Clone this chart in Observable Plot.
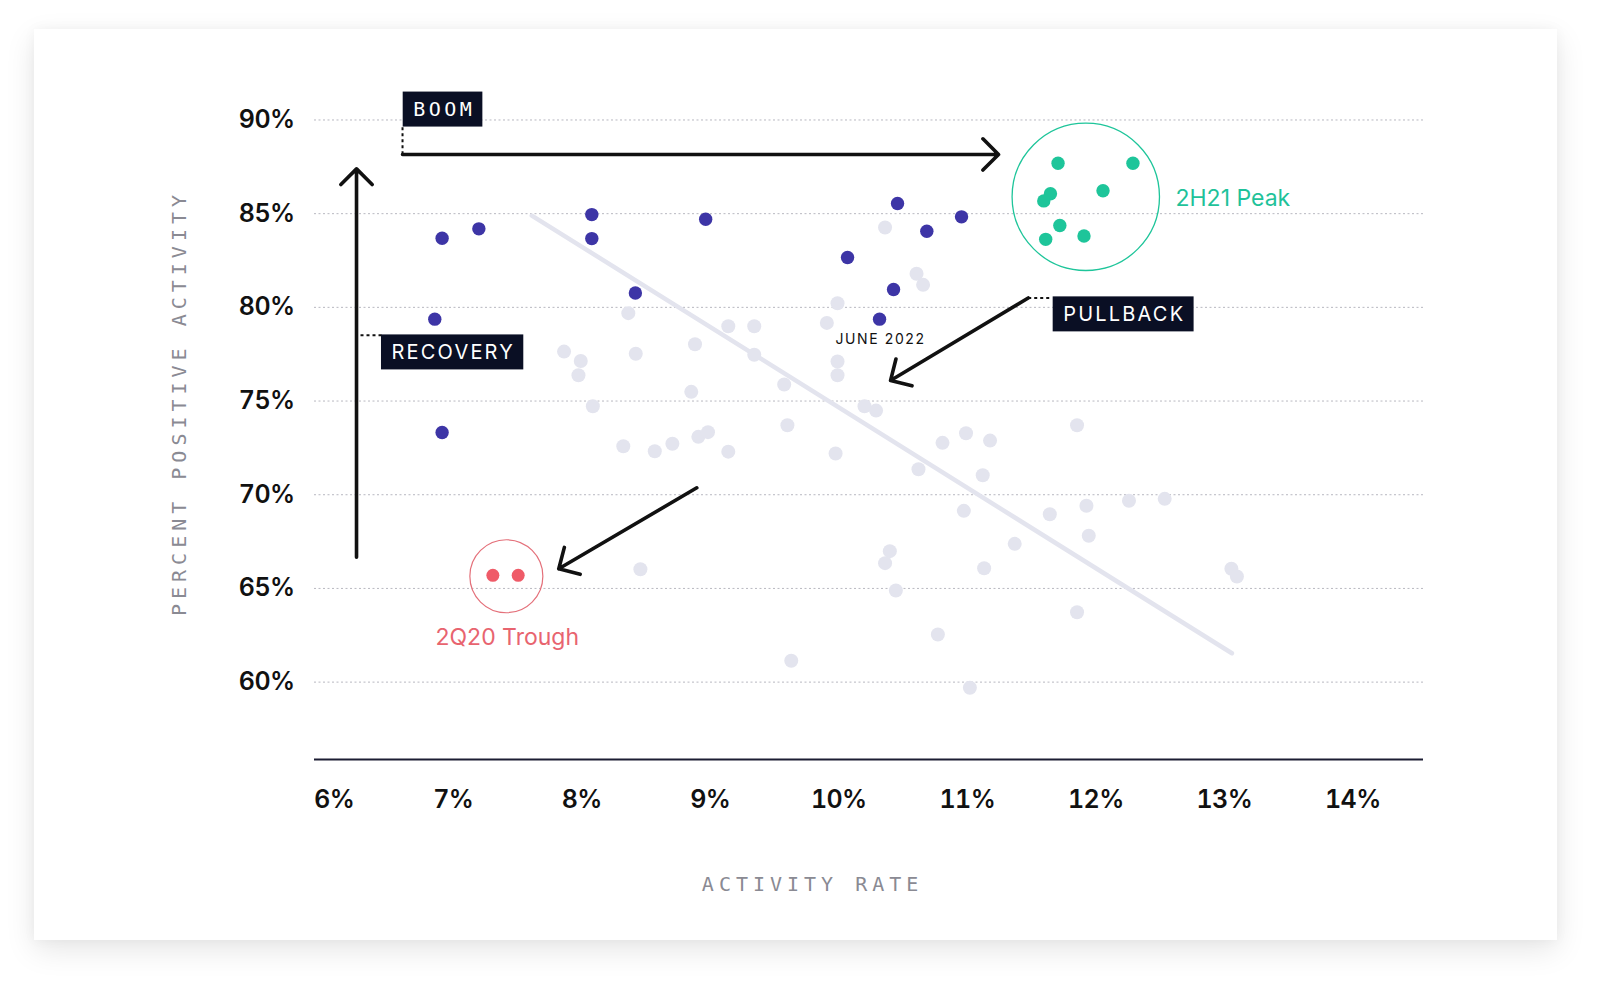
<!DOCTYPE html>
<html>
<head>
<meta charset="utf-8">
<script src="https://cdn.jsdelivr.net/npm/d3@7"></script>
<script src="https://cdn.jsdelivr.net/npm/@observablehq/plot@0.6"></script>
<style>
  html, body { margin: 0; padding: 0; background: #ffffff; width: 1600px; height: 988px; overflow: hidden; }
  #card { position: absolute; left: 34px; top: 29px; width: 1523px; height: 911px; background: #ffffff;
          box-shadow: 0 10px 28px rgba(0,0,0,0.10), 0 0 12px rgba(0,0,0,0.04); }
  #chart { position: absolute; left: 0; top: 0; }
</style>
</head>
<body>
<div id="card"></div>
<div id="chart"></div>
<script>
// ---- data (activity rate %, percent positive activity %) ----
const otherPeriods = [
  [8.362, 79.69], [7.862, 77.64], [7.992, 77.14], [7.974, 76.38], [8.42, 77.52],
  [8.086, 74.72], [8.881, 78.03], [9.14, 78.99], [9.342, 78.99], [9.342, 77.47],
  [8.852, 75.49], [9.575, 75.88], [9.99, 80.22], [9.907, 79.17], [9.99, 77.11],
  [9.99, 76.38], [10.20, 74.72], [10.29, 74.49], [9.60, 73.71], [8.323, 72.59],
  [8.568, 72.32], [8.705, 72.72], [8.907, 73.09], [8.982, 73.34], [9.14, 72.30],
  [9.975, 72.20], [10.36, 84.26], [10.605, 81.79], [10.656, 81.20], [8.456, 66.02],
  [10.397, 66.99], [10.36, 66.35], [10.444, 64.89], [9.63, 61.14], [10.807, 72.77],
  [10.99, 73.28], [11.177, 72.89], [10.62, 71.36], [11.12, 71.04], [11.854, 73.71],
  [10.973, 69.14], [11.642, 68.96], [11.927, 69.41], [12.258, 69.68], [12.536, 69.78],
  [11.945, 67.81], [11.369, 67.38], [11.131, 66.08], [13.055, 66.05], [13.098, 65.64],
  [11.854, 63.73], [10.771, 62.54], [11.02, 59.70]
];
const recoveryPeriods = [
  [6.913, 83.69], [7.199, 84.19], [8.078, 84.95], [8.078, 83.67], [8.964, 84.70],
  [8.417, 80.77], [6.856, 79.37], [6.913, 73.32], [10.457, 85.54], [10.068, 82.66],
  [10.685, 84.06], [10.955, 84.83], [10.426, 80.95], [10.317, 79.37]
];
const peakPeriods = [
  [11.706, 87.69], [12.289, 87.69], [12.056, 86.22], [11.647, 86.06],
  [11.595, 85.68], [11.72, 84.37], [11.61, 83.63], [11.908, 83.81]
];
const troughPeriods = [[7.308, 65.70], [7.505, 65.70]];
const trendLine = [[7.611, 84.90], [13.059, 61.54]];

const xTicks = [6, 7, 8, 9, 10, 11, 12, 13, 14];
const yTicks = [60, 65, 70, 75, 80, 85, 90];
const xDomain = [5.92, 14.55];
const yDomain = [55.87, 92];

// ---- annotations (in data units) ----
const monoLabels = [{text: "BOOM", x: 6.688, y: 90.55}];
const sansLabels = [
  {text: "RECOVERY", x: 6.519, y: 77.59},
  {text: "PULLBACK", x: 11.746, y: 79.62}
];
const arrows = [
  {x1: 6.605, y1: 88.16, x2: 11.243, y2: 88.16},
  {x1: 6.247, y1: 66.67, x2: 6.247, y2: 87.39},
  {x1: 11.474, y1: 80.50, x2: 10.403, y2: 76.10},
  {x1: 8.895, y1: 70.37, x2: 7.821, y2: 66.05}
];
const connectors = [
  {x1: 6.605, y1: 89.61, x2: 6.605, y2: 88.16},
  {x1: 6.278, y1: 78.51, x2: 6.441, y2: 78.51},
  {x1: 11.474, y1: 80.50, x2: 11.655, y2: 80.50}
];
const peakCircle = {x: 11.922, y: 85.90, label: "2H21 Peak", lx: 12.62, ly: 85.80};
const troughCircle = {x: 7.413, y: 65.65, label: "2Q20 Trough", lx: 7.42, ly: 62.35};
const juneLabel = {x: 10.325, y: 78.28, label: "JUNE 2022"};

const BLUE = "#3d35a6", GREEN = "#1ec59a", RED = "#ef5b68", GRAY = "#e3e4ee", INK = "#0a0f24";
const TEAL_TEXT = "#1fc29a", RED_TEXT = "#e8646f";
const MONO = "'DejaVu Sans Mono', monospace";

const chart = Plot.plot({
  width: 1600,
  height: 988,
  marginLeft: 314,
  marginRight: 177,
  marginTop: 82,
  marginBottom: 229,
  style: {background: "transparent", fontFamily: "Inter, sans-serif", fontSize: "25px", fontWeight: 600, color: "#111", overflow: "visible"},
  x: {domain: xDomain, ticks: xTicks, tickSize: 0, tickPadding: 31, label: null,
      tickFormat: d => d === xTicks[0] ? "" : d + "%"},
  y: {domain: yDomain, ticks: yTicks, tickSize: 0, tickPadding: 20, label: null,
      tickFormat: d => d + "%"},
  marks: [
    Plot.ruleY(yTicks, {stroke: "#b8b8c0", strokeWidth: 1, strokeDasharray: "2,2.5"}),
    Plot.ruleY([yDomain[0]], {stroke: "#1c1d33", strokeWidth: 2}),
    Plot.text([xTicks[0]], {x: d => d, frameAnchor: "bottom", dy: 31, lineAnchor: "top",
      textAnchor: "start", dx: -10.5, text: d => d + "%", fill: "#111", fontSize: 25, fontWeight: 600}),
    Plot.line(trendLine, {x: d => d[0], y: d => d[1], stroke: GRAY, strokeWidth: 4.5}),
    Plot.dot(otherPeriods, {x: d => d[0], y: d => d[1], r: 7, fill: GRAY}),
    Plot.dot(recoveryPeriods, {x: d => d[0], y: d => d[1], r: 6.7, fill: BLUE}),
    Plot.dot(peakPeriods, {x: d => d[0], y: d => d[1], r: 6.7, fill: GREEN}),
    Plot.dot(troughPeriods, {x: d => d[0], y: d => d[1], r: 6.5, fill: RED}),
    Plot.dot([peakCircle], {x: "x", y: "y", r: 73.7, fill: "none", stroke: GREEN, strokeWidth: 1.3}),
    Plot.dot([troughCircle], {x: "x", y: "y", r: 36.5, fill: "none", stroke: "#e4707a", strokeWidth: 1.2}),
    Plot.text([peakCircle], {x: "lx", y: "ly", text: "label", textAnchor: "start", fill: TEAL_TEXT,
      fontSize: 23, fontWeight: 400, fontFamily: "Inter, sans-serif"}),
    Plot.text([troughCircle], {x: "lx", y: "ly", text: "label", textAnchor: "middle", fill: RED_TEXT,
      fontSize: 23, fontWeight: 400, fontFamily: "Inter, sans-serif"}),
    Plot.text([juneLabel], {x: "x", y: "y", text: "label", textAnchor: "middle", fill: "#111",
      fontSize: 14, fontWeight: 400, fontFamily: "Inter, sans-serif"}),
    Plot.link(connectors, {x1: "x1", y1: "y1", x2: "x2", y2: "y2", stroke: "#111", strokeWidth: 2, strokeDasharray: "3,3"}),
    Plot.arrow(arrows, {x1: "x1", y1: "y1", x2: "x2", y2: "y2", stroke: "#111", strokeWidth: 3.6,
      headLength: 9.2, headAngle: 90, strokeLinecap: "round", strokeLinejoin: "round"}),
    Plot.text(monoLabels, {x: "x", y: "y", text: "text", textAnchor: "start", fill: "#ffffff",
      fontSize: 20, fontWeight: 400, fontFamily: MONO}),
    Plot.text(sansLabels, {x: "x", y: "y", text: "text", textAnchor: "start", fill: "#ffffff",
      fontSize: 20, fontWeight: 400, fontFamily: "Inter, sans-serif"}),
    Plot.text(["PERCENT POSITIVE ACTIVITY"], {frameAnchor: "left", rotate: -90, dx: -135.4, dy: -15.5,
      text: d => d, fill: "#8a8a93", fontSize: 20, fontWeight: 400, fontFamily: MONO, textAnchor: "middle"}),
    Plot.text(["ACTIVITY RATE"], {frameAnchor: "bottom", dx: -58.9, dy: 131.5,
      text: d => d, fill: "#8a8a93", fontSize: 20, fontWeight: 400, fontFamily: MONO, textAnchor: "middle"})
  ]
});

document.getElementById("chart").appendChild(chart);

// letter spacing & label boxes
const spacing = {"BOOM": 3.5, "RECOVERY": 2.2, "PULLBACK": 2.2, "JUNE 2022": 1.6,
                 "PERCENT POSITIVE ACTIVITY": 5, "ACTIVITY RATE": 5};
const boxNames = new Set([...monoLabels, ...sansLabels].map(d => d.text));
chart.querySelectorAll("text").forEach(t => {
  const s = t.textContent;
  if (s in spacing) t.style.letterSpacing = spacing[s] + "px";
  if (/%$/.test(s)) t.style.letterSpacing = "-0.6px";
  if (s === "PERCENT POSITIVE ACTIVITY" || s === "ACTIVITY RATE") {
    t.setAttribute("dx", (spacing[s] / 2) + "px");
  }
});
chart.querySelectorAll("text").forEach(t => {
  const s = t.textContent;
  if (!boxNames.has(s)) return;
  const b = t.getBBox();
  const ls = spacing[s] || 0;
  const r = document.createElementNS("http://www.w3.org/2000/svg", "rect");
  r.setAttribute("x", b.x - 10.5);
  r.setAttribute("width", b.width - ls + 21);
  r.setAttribute("y", b.y + b.height / 2 - 17.5);
  r.setAttribute("height", 35);
  r.setAttribute("fill", INK);
  r.setAttribute("stroke", "none");
  if (t.getAttribute("transform")) r.setAttribute("transform", t.getAttribute("transform"));
  t.parentNode.insertBefore(r, t);
});
</script>
</body>
</html>
